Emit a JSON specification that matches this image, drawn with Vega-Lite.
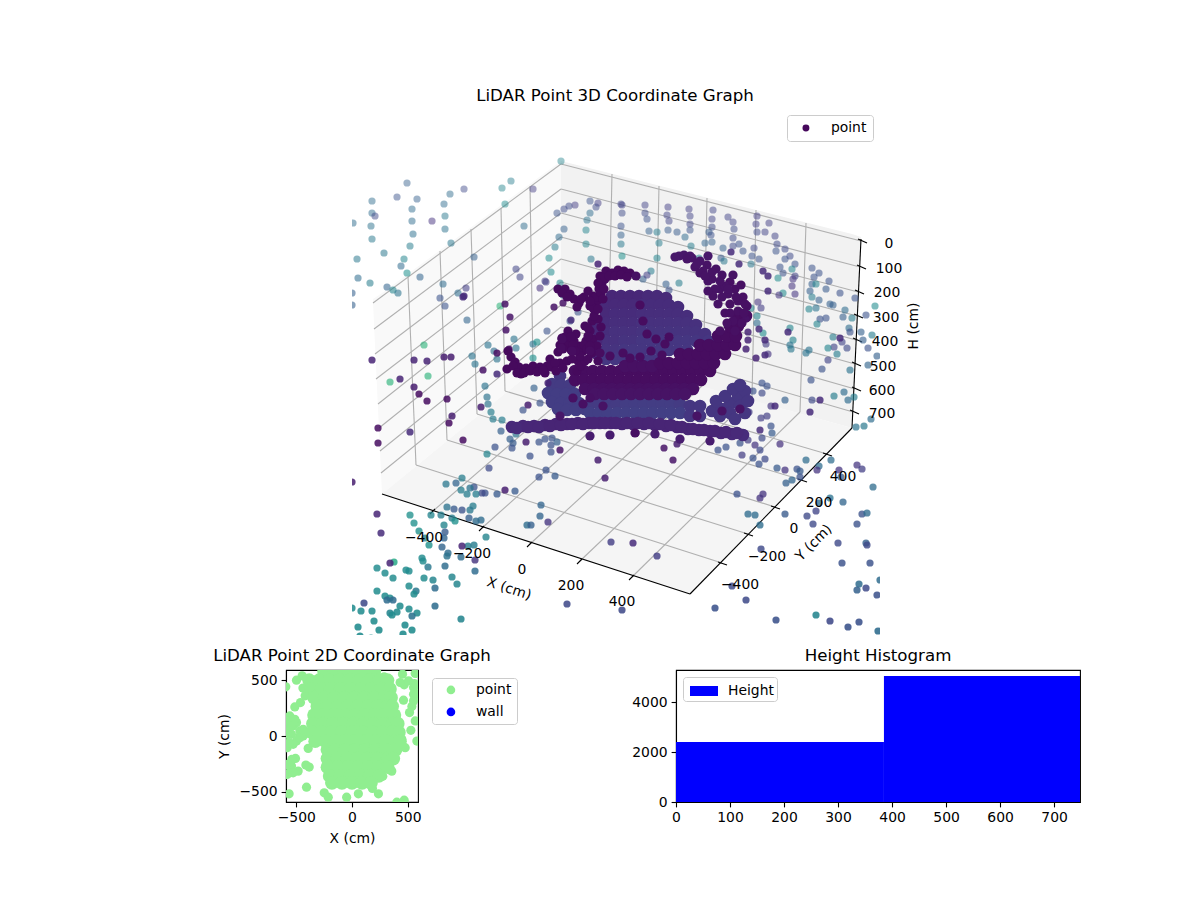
{
"$schema":"https://vega.github.io/schema/vega-lite/v6.json",
"background":"white",
"padding":{"left":212,"top":88,"right":0,"bottom":0},
"bounds":"flush",
"spacing":563,
"config":{
"view":{"stroke":null},
"font":"DejaVu Sans",
"title":{"font":"DejaVu Sans","fontSize":16.67,"fontWeight":"normal","color":"black","anchor":"middle","offset":5},
"axis":{"grid":false,"labelFont":"DejaVu Sans","titleFont":"DejaVu Sans","labelFontSize":13.9,"titleFontSize":13.9,"titleFontWeight":"normal","labelColor":"black","titleColor":"black","tickColor":"black","domainColor":"black","tickSize":4.9,"tickWidth":1.1,"domainWidth":1.1,"labelPadding":4,"labelFlush":false,"labelOverlap":false},
"legend":{"labelFont":"DejaVu Sans","labelFontSize":13.9,"labelColor":"black","fillColor":"white","strokeColor":"#cccccc","cornerRadius":3,"title":null,"orient":"none"}
},
"datasets":{
"scatter":[
{"x":561,"y":160,"r":45},{"x":407,"y":182,"r":30},{"x":511,"y":180,"r":42},{"x":502,"y":187,"r":45},{"x":464,"y":188,"r":22},{"x":533,"y":188,"r":18},{"x":450,"y":193,"r":35},{"x":397,"y":196,"r":25},{"x":417,"y":198,"r":30},{"x":372,"y":200,"r":35},{"x":590,"y":200,"r":25},{"x":598,"y":202,"r":18},{"x":505,"y":203,"r":48},{"x":444,"y":203,"r":35},{"x":621,"y":203,"r":20},{"x":622,"y":204,"r":20},{"x":575,"y":204,"r":18},{"x":569,"y":205,"r":22},{"x":645,"y":204,"r":20},{"x":668,"y":206,"r":18},{"x":596,"y":206,"r":22},{"x":412,"y":208,"r":35},{"x":564,"y":208,"r":22},{"x":689,"y":208,"r":18},{"x":713,"y":209,"r":20},{"x":372,"y":212,"r":35},{"x":557,"y":212,"r":25},{"x":590,"y":212,"r":35},{"x":622,"y":212,"r":22},{"x":645,"y":212,"r":22},{"x":375,"y":215,"r":22},{"x":445,"y":215,"r":40},{"x":757,"y":215,"r":18},{"x":667,"y":214,"r":20},{"x":690,"y":215,"r":20},{"x":728,"y":216,"r":20},{"x":353,"y":222,"r":35},{"x":412,"y":220,"r":35},{"x":432,"y":220,"r":14},{"x":587,"y":219,"r":38},{"x":647,"y":218,"r":25},{"x":669,"y":220,"r":20},{"x":712,"y":218,"r":20},{"x":733,"y":221,"r":20},{"x":769,"y":222,"r":18},{"x":371,"y":225,"r":37},{"x":445,"y":228,"r":38},{"x":524,"y":225,"r":35},{"x":564,"y":228,"r":30},{"x":586,"y":229,"r":45},{"x":621,"y":225,"r":25},{"x":690,"y":223,"r":20},{"x":712,"y":226,"r":22},{"x":756,"y":223,"r":18},{"x":734,"y":228,"r":22},{"x":413,"y":233,"r":37},{"x":559,"y":236,"r":35},{"x":621,"y":234,"r":30},{"x":649,"y":230,"r":30},{"x":657,"y":231,"r":42},{"x":668,"y":229,"r":28},{"x":677,"y":231,"r":28},{"x":690,"y":229,"r":25},{"x":709,"y":231,"r":28},{"x":757,"y":231,"r":22},{"x":765,"y":231,"r":20},{"x":685,"y":236,"r":35},{"x":711,"y":234,"r":25},{"x":733,"y":237,"r":22},{"x":775,"y":235,"r":20},{"x":372,"y":238,"r":40},{"x":451,"y":242,"r":40},{"x":555,"y":246,"r":42},{"x":586,"y":243,"r":45},{"x":621,"y":243,"r":40},{"x":659,"y":242,"r":42},{"x":705,"y":242,"r":32},{"x":712,"y":241,"r":30},{"x":739,"y":243,"r":25},{"x":777,"y":243,"r":22},{"x":410,"y":245,"r":42},{"x":691,"y":245,"r":42},{"x":723,"y":247,"r":30},{"x":733,"y":245,"r":22},{"x":754,"y":247,"r":22},{"x":785,"y":248,"r":22},{"x":384,"y":252,"r":40},{"x":743,"y":250,"r":25},{"x":776,"y":250,"r":25},{"x":404,"y":258,"r":45},{"x":474,"y":256,"r":30},{"x":357,"y":258,"r":40},{"x":549,"y":257,"r":48},{"x":591,"y":258,"r":40},{"x":622,"y":255,"r":50},{"x":657,"y":257,"r":45},{"x":699,"y":257,"r":45},{"x":721,"y":257,"r":28},{"x":752,"y":255,"r":25},{"x":790,"y":255,"r":22},{"x":724,"y":260,"r":40},{"x":759,"y":258,"r":25},{"x":785,"y":258,"r":25},{"x":751,"y":263,"r":40},{"x":795,"y":263,"r":25},{"x":401,"y":265,"r":35},{"x":516,"y":268,"r":20},{"x":651,"y":270,"r":42},{"x":780,"y":266,"r":25},{"x":792,"y":268,"r":45},{"x":812,"y":267,"r":25},{"x":407,"y":272,"r":50},{"x":520,"y":276,"r":20},{"x":551,"y":271,"r":48},{"x":420,"y":276,"r":32},{"x":358,"y":277,"r":35},{"x":643,"y":278,"r":30},{"x":647,"y":274,"r":18},{"x":783,"y":272,"r":25},{"x":819,"y":272,"r":25},{"x":814,"y":276,"r":25},{"x":778,"y":277,"r":48},{"x":795,"y":275,"r":20},{"x":370,"y":282,"r":42},{"x":443,"y":283,"r":35},{"x":545,"y":280,"r":18},{"x":546,"y":281,"r":18},{"x":560,"y":282,"r":45},{"x":666,"y":283,"r":30},{"x":679,"y":282,"r":42},{"x":812,"y":283,"r":30},{"x":816,"y":283,"r":45},{"x":829,"y":280,"r":25},{"x":793,"y":278,"r":15},{"x":387,"y":286,"r":32},{"x":466,"y":287,"r":18},{"x":540,"y":287,"r":14},{"x":669,"y":289,"r":25},{"x":792,"y":285,"r":15},{"x":826,"y":288,"r":28},{"x":393,"y":289,"r":45},{"x":398,"y":292,"r":38},{"x":458,"y":292,"r":35},{"x":352,"y":292,"r":30},{"x":563,"y":294,"r":42},{"x":783,"y":292,"r":48},{"x":795,"y":293,"r":15},{"x":779,"y":294,"r":15},{"x":810,"y":290,"r":30},{"x":840,"y":292,"r":25},{"x":440,"y":297,"r":25},{"x":812,"y":296,"r":42},{"x":855,"y":297,"r":25},{"x":819,"y":299,"r":30},{"x":758,"y":301,"r":15},{"x":445,"y":305,"r":25},{"x":500,"y":305,"r":65},{"x":352,"y":304,"r":30},{"x":830,"y":303,"r":30},{"x":833,"y":304,"r":30},{"x":875,"y":305,"r":48},{"x":751,"y":307,"r":45},{"x":761,"y":307,"r":18},{"x":809,"y":308,"r":45},{"x":816,"y":307,"r":38},{"x":845,"y":309,"r":35},{"x":578,"y":311,"r":25},{"x":843,"y":316,"r":30},{"x":852,"y":317,"r":42},{"x":866,"y":314,"r":25},{"x":757,"y":315,"r":45},{"x":467,"y":319,"r":32},{"x":820,"y":318,"r":25},{"x":826,"y":317,"r":25},{"x":570,"y":320,"r":25},{"x":817,"y":323,"r":45},{"x":757,"y":322,"r":35},{"x":790,"y":327,"r":45},{"x":849,"y":327,"r":35},{"x":547,"y":330,"r":25},{"x":763,"y":332,"r":48},{"x":850,"y":331,"r":25},{"x":861,"y":331,"r":30},{"x":872,"y":334,"r":42},{"x":514,"y":338,"r":38},{"x":793,"y":339,"r":45},{"x":833,"y":336,"r":42},{"x":842,"y":341,"r":20},{"x":863,"y":339,"r":30},{"x":424,"y":344,"r":65},{"x":488,"y":344,"r":38},{"x":533,"y":343,"r":38},{"x":537,"y":341,"r":50},{"x":790,"y":344,"r":38},{"x":766,"y":343,"r":18},{"x":516,"y":347,"r":38},{"x":791,"y":348,"r":40},{"x":834,"y":346,"r":20},{"x":847,"y":347,"r":22},{"x":828,"y":347,"r":45},{"x":868,"y":347,"r":25},{"x":494,"y":350,"r":35},{"x":809,"y":349,"r":38},{"x":806,"y":352,"r":38},{"x":837,"y":353,"r":42},{"x":877,"y":355,"r":30},{"x":472,"y":355,"r":38},{"x":497,"y":358,"r":38},{"x":533,"y":357,"r":50},{"x":768,"y":353,"r":15},{"x":828,"y":359,"r":20},{"x":475,"y":363,"r":38},{"x":868,"y":364,"r":32},{"x":822,"y":368,"r":25},{"x":850,"y":369,"r":38},{"x":390,"y":381,"r":65},{"x":428,"y":375,"r":65},{"x":811,"y":379,"r":25},{"x":485,"y":385,"r":38},{"x":534,"y":387,"r":30},{"x":762,"y":382,"r":25},{"x":767,"y":385,"r":25},{"x":753,"y":390,"r":25},{"x":762,"y":392,"r":22},{"x":844,"y":391,"r":35},{"x":834,"y":395,"r":42},{"x":487,"y":396,"r":38},{"x":854,"y":396,"r":42},{"x":785,"y":399,"r":30},{"x":812,"y":399,"r":22},{"x":848,"y":399,"r":35},{"x":540,"y":402,"r":25},{"x":488,"y":403,"r":38},{"x":523,"y":409,"r":25},{"x":771,"y":405,"r":15},{"x":491,"y":411,"r":42},{"x":749,"y":411,"r":18},{"x":761,"y":417,"r":18},{"x":767,"y":415,"r":18},{"x":871,"y":418,"r":35},{"x":493,"y":418,"r":42},{"x":502,"y":419,"r":42},{"x":771,"y":425,"r":25},{"x":864,"y":425,"r":40},{"x":856,"y":426,"r":38},{"x":501,"y":430,"r":30},{"x":772,"y":432,"r":28},{"x":516,"y":433,"r":38},{"x":510,"y":438,"r":30},{"x":545,"y":438,"r":25},{"x":552,"y":437,"r":25},{"x":539,"y":441,"r":25},{"x":557,"y":441,"r":30},{"x":513,"y":442,"r":28},{"x":740,"y":442,"r":25},{"x":762,"y":437,"r":22},{"x":748,"y":439,"r":18},{"x":495,"y":446,"r":25},{"x":512,"y":447,"r":25},{"x":551,"y":444,"r":25},{"x":718,"y":449,"r":25},{"x":726,"y":446,"r":25},{"x":780,"y":443,"r":14},{"x":755,"y":444,"r":15},{"x":760,"y":449,"r":22},{"x":551,"y":451,"r":25},{"x":530,"y":455,"r":25},{"x":487,"y":453,"r":45},{"x":742,"y":454,"r":18},{"x":753,"y":457,"r":25},{"x":765,"y":458,"r":22},{"x":806,"y":459,"r":35},{"x":831,"y":459,"r":35},{"x":759,"y":463,"r":25},{"x":819,"y":465,"r":35},{"x":857,"y":464,"r":15},{"x":489,"y":467,"r":22},{"x":546,"y":469,"r":25},{"x":777,"y":467,"r":28},{"x":785,"y":469,"r":15},{"x":797,"y":468,"r":25},{"x":800,"y":470,"r":28},{"x":817,"y":469,"r":15},{"x":839,"y":469,"r":15},{"x":862,"y":468,"r":18},{"x":555,"y":475,"r":28},{"x":539,"y":476,"r":25},{"x":462,"y":477,"r":42},{"x":800,"y":476,"r":25},{"x":841,"y":476,"r":28},{"x":792,"y":479,"r":32},{"x":786,"y":482,"r":30},{"x":456,"y":482,"r":32},{"x":446,"y":483,"r":40},{"x":873,"y":486,"r":35},{"x":474,"y":486,"r":25},{"x":470,"y":487,"r":38},{"x":461,"y":489,"r":42},{"x":515,"y":490,"r":28},{"x":485,"y":492,"r":25},{"x":482,"y":492,"r":22},{"x":497,"y":493,"r":28},{"x":476,"y":493,"r":42},{"x":467,"y":493,"r":42},{"x":737,"y":493,"r":25},{"x":763,"y":493,"r":15},{"x":760,"y":497,"r":15},{"x":830,"y":497,"r":38},{"x":843,"y":501,"r":32},{"x":819,"y":502,"r":35},{"x":541,"y":504,"r":32},{"x":473,"y":505,"r":42},{"x":447,"y":506,"r":38},{"x":454,"y":508,"r":28},{"x":462,"y":509,"r":25},{"x":470,"y":509,"r":40},{"x":816,"y":510,"r":20},{"x":410,"y":514,"r":50},{"x":431,"y":514,"r":45},{"x":441,"y":514,"r":42},{"x":540,"y":515,"r":32},{"x":748,"y":513,"r":35},{"x":755,"y":514,"r":35},{"x":785,"y":513,"r":28},{"x":807,"y":515,"r":22},{"x":862,"y":513,"r":25},{"x":867,"y":512,"r":35},{"x":452,"y":517,"r":42},{"x":469,"y":517,"r":30},{"x":455,"y":520,"r":50},{"x":481,"y":519,"r":35},{"x":476,"y":520,"r":35},{"x":548,"y":521,"r":15},{"x":414,"y":522,"r":50},{"x":444,"y":524,"r":45},{"x":527,"y":524,"r":35},{"x":531,"y":524,"r":30},{"x":760,"y":524,"r":35},{"x":813,"y":523,"r":22},{"x":857,"y":523,"r":25},{"x":419,"y":530,"r":50},{"x":445,"y":531,"r":28},{"x":486,"y":536,"r":45},{"x":444,"y":537,"r":32},{"x":425,"y":537,"r":45},{"x":611,"y":541,"r":18},{"x":838,"y":542,"r":22},{"x":866,"y":542,"r":30},{"x":867,"y":544,"r":22},{"x":429,"y":544,"r":50},{"x":442,"y":546,"r":32},{"x":468,"y":545,"r":42},{"x":474,"y":544,"r":42},{"x":761,"y":548,"r":22},{"x":448,"y":552,"r":35},{"x":447,"y":555,"r":38},{"x":461,"y":556,"r":35},{"x":657,"y":555,"r":18},{"x":422,"y":557,"r":48},{"x":475,"y":559,"r":15},{"x":423,"y":560,"r":48},{"x":394,"y":561,"r":60},{"x":842,"y":562,"r":25},{"x":870,"y":562,"r":25},{"x":428,"y":566,"r":40},{"x":445,"y":565,"r":35},{"x":377,"y":567,"r":48},{"x":406,"y":569,"r":48},{"x":409,"y":570,"r":48},{"x":475,"y":570,"r":35},{"x":385,"y":572,"r":48},{"x":393,"y":577,"r":48},{"x":424,"y":577,"r":48},{"x":452,"y":576,"r":45},{"x":433,"y":579,"r":45},{"x":880,"y":579,"r":35},{"x":457,"y":583,"r":45},{"x":859,"y":583,"r":35},{"x":409,"y":585,"r":48},{"x":435,"y":587,"r":35},{"x":732,"y":585,"r":22},{"x":866,"y":587,"r":22},{"x":416,"y":590,"r":40},{"x":377,"y":590,"r":48},{"x":857,"y":589,"r":30},{"x":414,"y":593,"r":48},{"x":877,"y":594,"r":25},{"x":385,"y":595,"r":48},{"x":390,"y":597,"r":48},{"x":387,"y":599,"r":35},{"x":393,"y":599,"r":35},{"x":746,"y":599,"r":22},{"x":364,"y":602,"r":22},{"x":567,"y":603,"r":22},{"x":400,"y":605,"r":48},{"x":435,"y":605,"r":35},{"x":715,"y":607,"r":25},{"x":352,"y":607,"r":48},{"x":409,"y":608,"r":48},{"x":622,"y":609,"r":22},{"x":361,"y":610,"r":48},{"x":372,"y":610,"r":48},{"x":397,"y":611,"r":48},{"x":390,"y":612,"r":45},{"x":417,"y":612,"r":48},{"x":392,"y":614,"r":48},{"x":412,"y":615,"r":38},{"x":816,"y":614,"r":45},{"x":461,"y":618,"r":45},{"x":374,"y":620,"r":48},{"x":776,"y":619,"r":25},{"x":830,"y":620,"r":22},{"x":859,"y":621,"r":25},{"x":405,"y":624,"r":48},{"x":358,"y":626,"r":48},{"x":848,"y":626,"r":25},{"x":412,"y":629,"r":48},{"x":379,"y":629,"r":48},{"x":878,"y":630,"r":35},{"x":403,"y":633,"r":48},{"x":360,"y":635,"r":48},{"x":371,"y":637,"r":48},
{"x":598,"y":263,"r":10},{"x":731,"y":251,"r":12},{"x":739,"y":263,"r":12},{"x":763,"y":270,"r":12},{"x":768,"y":275,"r":12},{"x":768,"y":290,"r":12},{"x":464,"y":295,"r":12},{"x":463,"y":296,"r":12},{"x":505,"y":303,"r":5},{"x":510,"y":316,"r":5},{"x":506,"y":329,"r":5},{"x":554,"y":306,"r":5},{"x":563,"y":302,"r":5},{"x":571,"y":319,"r":12},{"x":561,"y":347,"r":5},{"x":497,"y":352,"r":3},{"x":509,"y":348,"r":3},{"x":372,"y":359,"r":10},{"x":414,"y":359,"r":10},{"x":427,"y":360,"r":10},{"x":444,"y":356,"r":8},{"x":451,"y":356,"r":8},{"x":483,"y":369,"r":5},{"x":497,"y":373,"r":12},{"x":400,"y":378,"r":10},{"x":548,"y":382,"r":10},{"x":414,"y":386,"r":8},{"x":419,"y":393,"r":3},{"x":427,"y":400,"r":3},{"x":447,"y":398,"r":3},{"x":481,"y":406,"r":8},{"x":528,"y":404,"r":8},{"x":452,"y":415,"r":8},{"x":449,"y":422,"r":3},{"x":378,"y":427,"r":3},{"x":410,"y":431,"r":12},{"x":378,"y":442,"r":3},{"x":463,"y":439,"r":3},{"x":526,"y":441,"r":8},{"x":560,"y":449,"r":5},{"x":598,"y":459,"r":8},{"x":605,"y":477,"r":8},{"x":352,"y":481,"r":8},{"x":505,"y":489,"r":8},{"x":377,"y":513,"r":10},{"x":381,"y":532,"r":12},{"x":462,"y":545,"r":10},{"x":633,"y":542,"r":12},{"x":390,"y":562,"r":10},{"x":748,"y":331,"r":10},{"x":748,"y":339,"r":10},{"x":746,"y":348,"r":10},{"x":759,"y":328,"r":12},{"x":765,"y":339,"r":12},{"x":765,"y":354,"r":12},{"x":756,"y":357,"r":10},{"x":746,"y":318,"r":5},{"x":788,"y":331,"r":12},{"x":840,"y":337,"r":12},{"x":820,"y":399,"r":12},{"x":810,"y":411,"r":12},{"x":775,"y":405,"r":12},{"x":760,"y":429,"r":12},{"x":664,"y":447,"r":5},{"x":673,"y":459,"r":5},{"x":677,"y":443,"r":8},{"x":636,"y":432,"r":5}
],
"fill":[
{"x":612,"y":295,"r":14},{"x":621,"y":295,"r":14},{"x":630,"y":295,"r":14},{"x":639,"y":295,"r":14},{"x":648,"y":295,"r":15},{"x":657,"y":295,"r":15},{"x":666,"y":297,"r":15},
{"x":606,"y":304,"r":15},{"x":615,"y":304,"r":15},{"x":624,"y":304,"r":15},{"x":633,"y":304,"r":15},{"x":642,"y":304,"r":16},{"x":651,"y":304,"r":16},{"x":660,"y":304,"r":16},{"x":669,"y":304,"r":16},{"x":678,"y":306,"r":16},
{"x":606,"y":313,"r":15},{"x":615,"y":313,"r":16},{"x":624,"y":313,"r":16},{"x":633,"y":313,"r":16},{"x":642,"y":313,"r":17},{"x":651,"y":313,"r":17},{"x":660,"y":313,"r":17},{"x":669,"y":313,"r":17},{"x":678,"y":313,"r":17},{"x":687,"y":315,"r":17},
{"x":606,"y":322,"r":16},{"x":615,"y":322,"r":17},{"x":624,"y":322,"r":17},{"x":633,"y":322,"r":17},{"x":642,"y":322,"r":18},{"x":651,"y":322,"r":18},{"x":660,"y":322,"r":18},{"x":669,"y":322,"r":18},{"x":678,"y":322,"r":18},{"x":687,"y":322,"r":18},{"x":696,"y":324,"r":18},
{"x":606,"y":331,"r":17},{"x":615,"y":331,"r":18},{"x":624,"y":331,"r":18},{"x":633,"y":331,"r":18},{"x":642,"y":331,"r":19},{"x":651,"y":331,"r":19},{"x":660,"y":331,"r":19},{"x":669,"y":331,"r":19},{"x":678,"y":331,"r":19},{"x":687,"y":331,"r":19},{"x":696,"y":331,"r":19},{"x":705,"y":333,"r":19},
{"x":606,"y":340,"r":18},{"x":615,"y":340,"r":18},{"x":624,"y":340,"r":19},{"x":633,"y":340,"r":19},{"x":642,"y":340,"r":20},{"x":651,"y":340,"r":20},{"x":660,"y":340,"r":20},{"x":669,"y":340,"r":20},{"x":678,"y":340,"r":20},{"x":687,"y":340,"r":20},{"x":696,"y":340,"r":20},{"x":708,"y":340,"r":20},
{"x":606,"y":349,"r":19},{"x":615,"y":349,"r":19},{"x":624,"y":349,"r":20},{"x":633,"y":349,"r":20},{"x":642,"y":349,"r":20},{"x":651,"y":349,"r":20},{"x":660,"y":349,"r":20},{"x":669,"y":349,"r":20},{"x":678,"y":349,"r":20},{"x":687,"y":349,"r":20},
{"x":606,"y":358,"r":20},{"x":615,"y":358,"r":20},{"x":624,"y":358,"r":20},{"x":633,"y":358,"r":20},{"x":642,"y":358,"r":20},{"x":651,"y":358,"r":20},{"x":660,"y":358,"r":20},
{"x":596,"y":352,"r":14},{"x":596,"y":340,"r":14},{"x":596,"y":328,"r":14},
{"x":560,"y":375,"r":20},{"x":552,"y":383,"r":22},{"x":561,"y":384,"r":22},{"x":570,"y":384,"r":22},{"x":548,"y":392,"r":23},{"x":557,"y":393,"r":23},{"x":566,"y":393,"r":23},{"x":575,"y":393,"r":23},{"x":552,"y":401,"r":23},{"x":561,"y":402,"r":23},{"x":570,"y":402,"r":23},{"x":579,"y":402,"r":23},{"x":558,"y":408,"r":23},{"x":567,"y":409,"r":23},{"x":576,"y":409,"r":23},{"x":585,"y":408,"r":23},
{"x":590,"y":403,"r":22},{"x":599,"y":403,"r":22},{"x":608,"y":403,"r":22},{"x":617,"y":403,"r":22},{"x":626,"y":403,"r":23},{"x":635,"y":403,"r":23},{"x":644,"y":403,"r":23},{"x":653,"y":403,"r":23},{"x":662,"y":403,"r":23},{"x":671,"y":403,"r":23},{"x":680,"y":403,"r":22},
{"x":590,"y":412,"r":24},{"x":599,"y":412,"r":24},{"x":608,"y":412,"r":24},{"x":617,"y":412,"r":24},{"x":626,"y":412,"r":24},{"x":635,"y":412,"r":24},{"x":644,"y":412,"r":24},{"x":653,"y":412,"r":24},{"x":662,"y":412,"r":24},{"x":671,"y":412,"r":24},{"x":680,"y":412,"r":24},
{"x":690,"y":405,"r":20},{"x":700,"y":405,"r":20},{"x":712,"y":410,"r":20},{"x":722,"y":408,"r":20},{"x":730,"y":402,"r":20},{"x":738,"y":395,"r":20},{"x":745,"y":390,"r":20},{"x":716,"y":400,"r":20},{"x":725,"y":395,"r":20},{"x":733,"y":388,"r":20},{"x":740,"y":384,"r":20},{"x":720,"y":415,"r":20},{"x":730,"y":412,"r":20},{"x":740,"y":405,"r":20},{"x":748,"y":400,"r":20},{"x":745,"y":412,"r":20},{"x":735,"y":418,"r":20},{"x":700,"y":415,"r":20},{"x":690,"y":415,"r":20},
{"x":512,"y":426,"r":15},{"x":523,"y":425,"r":14},{"x":534,"y":425,"r":14},{"x":545,"y":424,"r":13},{"x":556,"y":423,"r":13},{"x":567,"y":423,"r":13},{"x":578,"y":422,"r":13},{"x":589,"y":422,"r":13},{"x":600,"y":422,"r":13},{"x":611,"y":422,"r":13},{"x":622,"y":423,"r":13},{"x":633,"y":423,"r":13},{"x":644,"y":423,"r":13},{"x":655,"y":424,"r":13},{"x":666,"y":425,"r":13},{"x":677,"y":426,"r":13},{"x":688,"y":428,"r":13},{"x":699,"y":429,"r":13},{"x":710,"y":430,"r":13},{"x":721,"y":432,"r":14},{"x":732,"y":433,"r":15},{"x":743,"y":434,"r":16},
{"x":517,"y":427,"r":15},{"x":528,"y":426,"r":14},{"x":539,"y":426,"r":14},{"x":550,"y":425,"r":13},{"x":561,"y":424,"r":13},{"x":572,"y":423,"r":13},{"x":583,"y":423,"r":13},{"x":594,"y":422,"r":13},{"x":605,"y":422,"r":13},{"x":616,"y":422,"r":13},{"x":627,"y":422,"r":13},{"x":638,"y":422,"r":13},{"x":649,"y":422,"r":13},{"x":660,"y":423,"r":13},{"x":671,"y":424,"r":13},{"x":682,"y":426,"r":13},{"x":693,"y":428,"r":13},{"x":704,"y":429,"r":13},{"x":715,"y":430,"r":13},{"x":726,"y":431,"r":14},{"x":737,"y":432,"r":15},
{"x":575,"y":370,"r":4},{"x":584,"y":370,"r":4},{"x":593,"y":370,"r":4},{"x":602,"y":370,"r":4},{"x":611,"y":370,"r":4},{"x":620,"y":370,"r":4},{"x":629,"y":370,"r":4},{"x":638,"y":370,"r":4},{"x":647,"y":370,"r":4},{"x":656,"y":370,"r":4},{"x":665,"y":370,"r":4},{"x":674,"y":370,"r":4},{"x":683,"y":370,"r":4},{"x":692,"y":370,"r":4},{"x":701,"y":370,"r":4},{"x":710,"y":370,"r":4},
{"x":575,"y":379,"r":4},{"x":584,"y":379,"r":4},{"x":593,"y":379,"r":4},{"x":602,"y":379,"r":4},{"x":611,"y":379,"r":4},{"x":620,"y":379,"r":4},{"x":629,"y":379,"r":4},{"x":638,"y":379,"r":4},{"x":647,"y":379,"r":4},{"x":656,"y":379,"r":4},{"x":665,"y":379,"r":4},{"x":674,"y":379,"r":4},{"x":683,"y":379,"r":4},{"x":692,"y":379,"r":4},{"x":701,"y":379,"r":4},
{"x":585,"y":388,"r":5},{"x":594,"y":388,"r":5},{"x":603,"y":388,"r":5},{"x":612,"y":388,"r":5},{"x":621,"y":388,"r":5},{"x":630,"y":388,"r":5},{"x":639,"y":388,"r":5},{"x":648,"y":388,"r":5},{"x":657,"y":388,"r":5},{"x":666,"y":388,"r":5},{"x":675,"y":388,"r":5},{"x":684,"y":388,"r":5},{"x":693,"y":388,"r":5},
{"x":595,"y":393,"r":6},{"x":604,"y":393,"r":6},{"x":613,"y":393,"r":6},{"x":622,"y":393,"r":6},{"x":631,"y":393,"r":6},{"x":640,"y":393,"r":6},{"x":649,"y":393,"r":6},{"x":658,"y":393,"r":6},{"x":667,"y":393,"r":6},{"x":676,"y":393,"r":6},{"x":685,"y":393,"r":6},
{"x":625,"y":365,"r":5},{"x":634,"y":365,"r":5},{"x":643,"y":365,"r":5},{"x":652,"y":365,"r":5},{"x":660,"y":362,"r":4},{"x":669,"y":362,"r":4},{"x":678,"y":362,"r":4},{"x":687,"y":362,"r":4},{"x":696,"y":362,"r":4},{"x":705,"y":362,"r":4},{"x":714,"y":362,"r":4},{"x":680,"y":353,"r":4},{"x":689,"y":353,"r":4},{"x":698,"y":353,"r":4},{"x":707,"y":353,"r":4},{"x":716,"y":353,"r":4},{"x":725,"y":353,"r":4},{"x":700,"y":344,"r":4},{"x":709,"y":344,"r":4},{"x":718,"y":344,"r":4},{"x":727,"y":344,"r":4},{"x":735,"y":344,"r":4},{"x":718,"y":335,"r":4},{"x":727,"y":335,"r":4},{"x":736,"y":335,"r":4},{"x":730,"y":325,"r":4},{"x":738,"y":325,"r":4},{"x":738,"y":315,"r":4},{"x":746,"y":315,"r":4}
],
"dots":[
{"x":747,"y":305,"r":5},{"x":743,"y":296,"r":5},{"x":735,"y":288,"r":5},{"x":730,"y":281,"r":5},{"x":722,"y":274,"r":6},{"x":716,"y":268,"r":6},{"x":707,"y":264,"r":6},{"x":700,"y":260,"r":7},{"x":692,"y":257,"r":7},{"x":684,"y":254,"r":8},{"x":679,"y":255,"r":8},{"x":690,"y":255,"r":8},{"x":708,"y":255,"r":8},{"x":738,"y":300,"r":5},{"x":728,"y":293,"r":6},{"x":720,"y":288,"r":6},{"x":712,"y":278,"r":6},{"x":703,"y":270,"r":6},{"x":695,"y":266,"r":7},{"x":733,"y":274,"r":6},{"x":741,"y":284,"r":5},{"x":725,"y":285,"r":6},{"x":687,"y":258,"r":7},{"x":697,"y":263,"r":7},{"x":712,"y":271,"r":6},{"x":675,"y":256,"r":8},
{"x":700,"y":272,"r":6},{"x":708,"y":280,"r":6},{"x":715,"y":288,"r":6},{"x":722,"y":296,"r":6},{"x":730,"y":303,"r":5},{"x":738,"y":310,"r":5},{"x":725,"y":312,"r":5},{"x":733,"y":320,"r":5},{"x":742,"y":322,"r":5},{"x":720,"y":280,"r":6},{"x":728,"y":288,"r":6},{"x":736,"y":296,"r":5},{"x":744,"y":312,"r":5},{"x":713,"y":295,"r":6},{"x":708,"y":290,"r":6},{"x":735,"y":330,"r":5},{"x":727,"y":322,"r":5},{"x":720,"y":330,"r":5},{"x":705,"y":275,"r":6},{"x":730,"y":312,"r":5},{"x":718,"y":303,"r":6},{"x":745,"y":303,"r":5},
{"x":577,"y":370,"r":3},{"x":578,"y":360,"r":3},{"x":583,"y":350,"r":3},{"x":579,"y":345,"r":3},{"x":586,"y":340,"r":3},{"x":590,"y":330,"r":3},{"x":585,"y":325,"r":3},{"x":592,"y":320,"r":3},{"x":595,"y":310,"r":3},{"x":590,"y":305,"r":3},{"x":597,"y":300,"r":3},{"x":593,"y":295,"r":3},{"x":599,"y":288,"r":3},{"x":602,"y":282,"r":3},{"x":600,"y":275,"r":3},{"x":606,"y":270,"r":3},{"x":612,"y":272,"r":3},{"x":618,"y":269,"r":3},{"x":624,"y":270,"r":3},{"x":630,"y":272,"r":3},{"x":636,"y":275,"r":5},{"x":605,"y":278,"r":3},{"x":598,"y":318,"r":3},{"x":593,"y":338,"r":3},
{"x":581,"y":365,"r":3},{"x":580,"y":352,"r":3},{"x":584,"y":344,"r":3},{"x":588,"y":335,"r":3},{"x":588,"y":327,"r":3},{"x":594,"y":315,"r":3},{"x":593,"y":307,"r":3},{"x":596,"y":296,"r":3},{"x":601,"y":292,"r":3},{"x":603,"y":277,"r":3},{"x":609,"y":275,"r":3},{"x":615,"y":275,"r":3},{"x":621,"y":274,"r":3},{"x":627,"y":276,"r":3},{"x":598,"y":282,"r":3},{"x":604,"y":288,"r":3},{"x":587,"y":348,"r":3},{"x":592,"y":352,"r":3},{"x":585,"y":360,"r":3},
{"x":580,"y":355,"r":3},{"x":588,"y":358,"r":3},{"x":597,"y":345,"r":3},{"x":600,"y":335,"r":3},{"x":590,"y":345,"r":3},{"x":598,"y":360,"r":3},{"x":601,"y":326,"r":3},{"x":603,"y":298,"r":3},{"x":598,"y":308,"r":3},
{"x":558,"y":288,"r":3},{"x":565,"y":288,"r":3},{"x":570,"y":293,"r":3},{"x":574,"y":298,"r":3},{"x":579,"y":302,"r":3},{"x":584,"y":296,"r":3},{"x":588,"y":290,"r":3},{"x":562,"y":292,"r":3},{"x":567,"y":296,"r":3},{"x":577,"y":306,"r":3},{"x":581,"y":298,"r":3},{"x":590,"y":300,"r":3},
{"x":568,"y":330,"r":3},{"x":562,"y":337,"r":3},{"x":567,"y":343,"r":3},{"x":574,"y":340,"r":3},{"x":560,"y":344,"r":3},{"x":571,"y":349,"r":3},{"x":576,"y":333,"r":3},{"x":565,"y":336,"r":3},{"x":571,"y":336,"r":3},{"x":563,"y":348,"r":3},{"x":573,"y":344,"r":3},{"x":575,"y":350,"r":3},{"x":558,"y":351,"r":3},
{"x":508,"y":350,"r":3},{"x":511,"y":356,"r":3},{"x":515,"y":361,"r":3},{"x":519,"y":366,"r":3},{"x":521,"y":373,"r":3},{"x":526,"y":367,"r":3},{"x":533,"y":365,"r":3},{"x":540,"y":366,"r":3},{"x":547,"y":365,"r":3},{"x":550,"y":358,"r":3},{"x":551,"y":366,"r":3},{"x":560,"y":362,"r":3},{"x":567,"y":360,"r":3},{"x":572,"y":358,"r":3},{"x":507,"y":368,"r":3},{"x":545,"y":372,"r":3},{"x":513,"y":365,"r":3},{"x":517,"y":372,"r":3},{"x":524,"y":372,"r":3},{"x":530,"y":370,"r":3},{"x":537,"y":371,"r":3},{"x":543,"y":369,"r":3},{"x":555,"y":362,"r":3},{"x":563,"y":367,"r":3},{"x":556,"y":370,"r":3},
{"x":572,"y":350,"r":4},{"x":590,"y":350,"r":4},{"x":600,"y":352,"r":4},{"x":610,"y":355,"r":4},{"x":623,"y":352,"r":4},{"x":630,"y":357,"r":4},{"x":640,"y":356,"r":4},{"x":640,"y":304,"r":4},{"x":643,"y":320,"r":4},{"x":647,"y":333,"r":4},{"x":656,"y":338,"r":4},{"x":665,"y":343,"r":4},{"x":669,"y":336,"r":4},{"x":651,"y":350,"r":4},{"x":662,"y":354,"r":4},{"x":562,"y":338,"r":4},{"x":561,"y":347,"r":4},
{"x":603,"y":405,"r":6},{"x":635,"y":432,"r":5},{"x":697,"y":415,"r":6},{"x":722,"y":410,"r":6},{"x":740,"y":408,"r":6},{"x":573,"y":397,"r":5},{"x":583,"y":403,"r":5},{"x":590,"y":397,"r":5},{"x":560,"y":415,"r":8},{"x":610,"y":434,"r":10},{"x":680,"y":438,"r":10},{"x":710,"y":440,"r":10},{"x":590,"y":435,"r":10},{"x":655,"y":433,"r":10}
]
},
"vconcat":[
{"bounds":"flush","spacing":10,"hconcat":[
{"width":56,"height":528,"data":{"values":[{"x":0}]},"mark":{"type":"point","opacity":0},"encoding":{}},
{"width":528,"height":528,
"title":{"text":"LiDAR Point 3D Coordinate Graph","offset":2,"dx":-1},
"resolve":{"scale":{"color":"independent","opacity":"independent"}},
"encoding":{
"x":{"field":"x","type":"quantitative","scale":{"domain":[352,880],"nice":false,"zero":false},"axis":null},
"y":{"field":"y","type":"quantitative","scale":{"domain":[634,106],"nice":false,"zero":false},"axis":null}
},
"layer":[
{"data":{"values":[{"x":373,"y":298,"y2":301},{"x":382,"y":292,"y2":493},{"x":561,"y":160,"y2":347}]},"mark":{"type":"area","color":"#f9f9f9"},"encoding":{"y2":{"field":"y2"}}},
{"data":{"values":[{"x":561,"y":160,"y2":347},{"x":852,"y":233,"y2":427},{"x":861,"y":236,"y2":236}]},"mark":{"type":"area","color":"#f2f2f2"},"encoding":{"y2":{"field":"y2"}}},
{"data":{"values":[{"x":382,"y":493,"y2":493},{"x":561,"y":347,"y2":551},{"x":690,"y":382,"y2":593},{"x":852,"y":427,"y2":427}]},"mark":{"type":"area","color":"#f5f5f5"},"encoding":{"y2":{"field":"y2"}}},
{"data":{"values":[
{"x":373,"y":302,"x2":561,"y2":163},{"x":561,"y":163,"x2":861,"y2":240},
{"x":374,"y":328,"x2":561,"y2":188},{"x":561,"y":188,"x2":860,"y2":266},
{"x":375,"y":353,"x2":561,"y2":212},{"x":561,"y":212,"x2":858,"y2":291},
{"x":376,"y":378,"x2":561,"y2":236},{"x":561,"y":236,"x2":857,"y2":315},
{"x":378,"y":403,"x2":561,"y2":258},{"x":561,"y":258,"x2":856,"y2":339},
{"x":379,"y":427,"x2":561,"y2":281},{"x":561,"y":281,"x2":855,"y2":363},
{"x":380,"y":450,"x2":561,"y2":304},{"x":561,"y":304,"x2":855,"y2":388},
{"x":381,"y":472,"x2":561,"y2":326},{"x":561,"y":326,"x2":853,"y2":411},
{"x":408,"y":275.5,"x2":416,"y2":464},{"x":440,"y":250,"x2":447,"y2":439},{"x":471,"y":228,"x2":477,"y2":413},{"x":501,"y":207,"x2":505,"y2":390},{"x":530,"y":185,"x2":533,"y2":367},
{"x":416,"y":464,"x2":722,"y2":562},{"x":447,"y":439,"x2":748,"y2":533},{"x":477,"y":413,"x2":775,"y2":506},{"x":505,"y":390,"x2":802,"y2":479},{"x":533,"y":367,"x2":827,"y2":453},
{"x":612,"y":173,"x2":608,"y2":359},{"x":659,"y":185,"x2":655,"y2":372},{"x":707,"y":197,"x2":703,"y2":384},{"x":756,"y":209,"x2":752,"y2":396},{"x":806,"y":222,"x2":800,"y2":411},
{"x":608,"y":359,"x2":433,"y2":510},{"x":655,"y":372,"x2":482,"y2":527},{"x":703,"y":384,"x2":530,"y2":543},{"x":752,"y":396,"x2":580,"y2":560},{"x":800,"y":411,"x2":632,"y2":576}
]},"mark":{"type":"rule","color":"#b0b0b0","strokeWidth":1.1},"encoding":{"x2":{"field":"x2"},"y2":{"field":"y2"}}},
{"data":{"values":[
{"x":382,"y":493,"x2":690,"y2":593},{"x":690,"y":593,"x2":852,"y2":427},{"x":861,"y":238,"x2":852,"y2":427},
{"x":430,"y":513,"x2":435,"y2":508},{"x":479,"y":530,"x2":484,"y2":525},{"x":527,"y":546,"x2":532,"y2":541},{"x":577,"y":563,"x2":582,"y2":558},{"x":629,"y":579,"x2":634,"y2":574},
{"x":718,"y":561,"x2":727,"y2":564},{"x":744,"y":532,"x2":753,"y2":535},{"x":771,"y":505,"x2":780,"y2":508},{"x":798,"y":478,"x2":807,"y2":481},{"x":823,"y":452,"x2":832,"y2":455},
{"x":858,"y":238,"x2":867,"y2":242},{"x":857,"y":264,"x2":866,"y2":268},{"x":855,"y":289,"x2":864,"y2":293},{"x":854,"y":313,"x2":863,"y2":317},{"x":853,"y":337,"x2":862,"y2":341},{"x":852,"y":361,"x2":861,"y2":365},{"x":852,"y":386,"x2":861,"y2":390},{"x":850,"y":409,"x2":859,"y2":413}
]},"mark":{"type":"rule","color":"black","strokeWidth":1.1},"encoding":{"x2":{"field":"x2"},"y2":{"field":"y2"}}},
{"data":{"name":"scatter"},"transform":[{"filter":"datum.r>12"}],"mark":{"type":"circle","clip":true,"size":52},
"encoding":{"color":{"field":"r","type":"quantitative","scale":{"scheme":"viridis","domain":[0,100]},"legend":null},
"opacity":{"field":"y","type":"quantitative","scale":{"domain":[160,640],"range":[0.45,0.9]},"legend":null}}},
{"data":{"name":"fill"},"mark":{"type":"circle","clip":true,"size":160,"opacity":1},
"encoding":{"color":{"field":"r","type":"quantitative","scale":{"scheme":"viridis","domain":[0,130]},"legend":null}}},
{"data":{"name":"scatter"},"transform":[{"filter":"datum.r<=12"}],"mark":{"type":"circle","clip":true,"size":52,"opacity":0.85},
"encoding":{"color":{"field":"r","type":"quantitative","scale":{"scheme":"viridis","domain":[0,100]},"legend":null}}},
{"data":{"name":"dots"},"mark":{"type":"circle","clip":true,"size":85,"opacity":1},
"encoding":{"color":{"field":"r","type":"quantitative","scale":{"scheme":"viridis","domain":[0,130]},"legend":null}}},
{"data":{"values":[{"x":424,"y":537,"t":"−400"},{"x":472,"y":553,"t":"−200"},{"x":522,"y":569,"t":"0"},{"x":571,"y":585,"t":"200"},{"x":622,"y":601,"t":"400"},
{"x":740,"y":584,"t":"−400"},{"x":767,"y":556,"t":"−200"},{"x":794,"y":528,"t":"0"},{"x":819,"y":502,"t":"200"},{"x":843,"y":476,"t":"400"},
{"x":889,"y":243,"t":"0"},{"x":889,"y":268,"t":"100"},{"x":887,"y":292,"t":"200"},{"x":886,"y":317,"t":"300"},{"x":885,"y":341,"t":"400"},{"x":883,"y":366,"t":"500"},{"x":882,"y":390,"t":"600"},{"x":882,"y":413,"t":"700"}]},
"mark":{"type":"text","font":"DejaVu Sans","fontSize":13.9,"color":"black"},"encoding":{"text":{"field":"t"}}},
{"data":{"values":[{"x":509,"y":588,"t":"X (cm)"}]},"mark":{"type":"text","font":"DejaVu Sans","fontSize":13.9,"color":"black","angle":18},"encoding":{"text":{"field":"t"}}},
{"data":{"values":[{"x":814,"y":542,"t":"Y (cm)"}]},"mark":{"type":"text","font":"DejaVu Sans","fontSize":13.9,"color":"black","angle":-45},"encoding":{"text":{"field":"t"}}},
{"data":{"values":[{"x":914,"y":325,"t":"H (cm)"}]},"mark":{"type":"text","font":"DejaVu Sans","fontSize":13.9,"color":"black","angle":270},"encoding":{"text":{"field":"t"}}},
{"data":{"values":[{"x":600,"y":300,"s":"point"}]},"mark":{"type":"circle","size":40,"opacity":0},
"encoding":{"color":{"field":"s","type":"nominal","scale":{"domain":["point"],"range":["#46085c"]},
"legend":{"legendX":435,"legendY":8,"symbolOpacity":1,"symbolSize":48,"symbolOffset":6,"padding":6,"labelOffset":18}}}}
]}
]},
{"bounds":"flush","spacing":258,"resolve":{"scale":{"color":"independent"}},"hconcat":[
{"width":132,"height":132,
"title":"LiDAR Point 2D Coordinate Graph",
"view":{"stroke":"black","strokeWidth":1.1},
"encoding":{
"x":{"field":"x","type":"quantitative","title":"X (cm)","scale":{"domain":[-592,592],"nice":false},"axis":{"values":[-500,0,500],"labelExpr":"replace(datum.label,'-','−')","titlePadding":7}},
"y":{"field":"y","type":"quantitative","title":"Y (cm)","scale":{"domain":[-592,592],"nice":false},"axis":{"values":[-500,0,500],"labelExpr":"replace(datum.label,'-','−')","titlePadding":7}},
"color":{"datum":"point","scale":{"domain":["point","wall"],"range":["#90ee90","#0000ff"]},
"legend":{"legendX":146,"legendY":8,"symbolSize":75,"symbolType":"circle","symbolOffset":7,"padding":5,"rowPadding":7,"labelOffset":18}}
},
"layer":[
{"data":{"values":[
{"x":-498,"y":501},{"x":-447,"y":540},{"x":-333,"y":501},{"x":-198,"y":540},{"x":147,"y":525},{"x":288,"y":531},{"x":453,"y":555},{"x":567,"y":561},{"x":468,"y":459},{"x":552,"y":435},{"x":552,"y":375},{"x":-594,"y":441},{"x":-462,"y":300},{"x":-513,"y":261},{"x":462,"y":321},{"x":537,"y":264},{"x":516,"y":210},{"x":567,"y":135},{"x":528,"y":51},{"x":582,"y":-45},{"x":-558,"y":180},{"x":-498,"y":120},{"x":-543,"y":15},{"x":-582,"y":-105},{"x":-498,"y":-45},{"x":-393,"y":-111},{"x":-507,"y":-201},{"x":-543,"y":-270},{"x":-564,"y":-330},{"x":-483,"y":-315},{"x":-414,"y":-261},{"x":-384,"y":-279},{"x":-408,"y":-459},{"x":-564,"y":-519},{"x":-249,"y":-510},{"x":-213,"y":-549},{"x":-48,"y":-549},{"x":57,"y":-519},{"x":183,"y":-471},{"x":237,"y":-519},{"x":402,"y":-594},{"x":468,"y":-576},{"x":357,"y":-315},{"x":276,"y":-360},{"x":477,"y":-105},{"x":447,"y":-30},{"x":-468,"y":45},{"x":-438,"y":0},{"x":-582,"y":135},{"x":-570,"y":60},{"x":-530,"y":90},{"x":-470,"y":-10},{"x":-540,"y":-210},{"x":560,"y":470},{"x":-440,"y":430},{"x":-420,"y":360},
{"x":-582,"y":120},{"x":-543,"y":90},{"x":-513,"y":150},{"x":-582,"y":15},{"x":-468,"y":-15},{"x":-528,"y":-75},{"x":-564,"y":-60},{"x":-438,"y":60},{"x":432,"y":480},{"x":507,"y":495},{"x":582,"y":375},{"x":552,"y":315},{"x":-582,"y":-255},{"x":-528,"y":-330},{"x":-582,"y":-345}
]},"mark":{"type":"circle","clip":true,"size":85,"opacity":1}},
{"data":{"values":[
{"x":-250,"y":578},{"x":-160,"y":578},{"x":-70,"y":578},{"x":20,"y":578},{"x":110,"y":578},{"x":200,"y":578},
{"x":-384,"y":500},{"x":-294,"y":500},{"x":-204,"y":500},{"x":-114,"y":500},{"x":-24,"y":500},{"x":66,"y":500},{"x":156,"y":500},{"x":246,"y":500},{"x":318,"y":500},
{"x":-370,"y":422},{"x":-280,"y":422},{"x":-190,"y":422},{"x":-100,"y":422},{"x":-10,"y":422},{"x":80,"y":422},{"x":170,"y":422},{"x":260,"y":422},{"x":340,"y":422},
{"x":-340,"y":344},{"x":-250,"y":344},{"x":-160,"y":344},{"x":-70,"y":344},{"x":20,"y":344},{"x":110,"y":344},{"x":200,"y":344},{"x":290,"y":344},{"x":350,"y":344},
{"x":-310,"y":266},{"x":-220,"y":266},{"x":-130,"y":266},{"x":-40,"y":266},{"x":50,"y":266},{"x":140,"y":266},{"x":230,"y":266},{"x":320,"y":266},{"x":360,"y":266},
{"x":-340,"y":188},{"x":-250,"y":188},{"x":-160,"y":188},{"x":-70,"y":188},{"x":20,"y":188},{"x":110,"y":188},{"x":200,"y":188},{"x":290,"y":188},{"x":380,"y":188},
{"x":-350,"y":110},{"x":-260,"y":110},{"x":-170,"y":110},{"x":-80,"y":110},{"x":10,"y":110},{"x":100,"y":110},{"x":190,"y":110},{"x":280,"y":110},{"x":370,"y":110},{"x":410,"y":110},
{"x":-360,"y":32},{"x":-270,"y":32},{"x":-180,"y":32},{"x":-90,"y":32},{"x":0,"y":32},{"x":90,"y":32},{"x":180,"y":32},{"x":270,"y":32},{"x":360,"y":32},{"x":420,"y":32},
{"x":-330,"y":-46},{"x":-240,"y":-46},{"x":-150,"y":-46},{"x":-60,"y":-46},{"x":30,"y":-46},{"x":120,"y":-46},{"x":210,"y":-46},{"x":300,"y":-46},{"x":390,"y":-46},{"x":430,"y":-46},
{"x":-220,"y":-124},{"x":-150,"y":-124},{"x":-60,"y":-124},{"x":30,"y":-124},{"x":120,"y":-124},{"x":210,"y":-124},{"x":300,"y":-124},{"x":390,"y":-124},
{"x":-220,"y":-202},{"x":-130,"y":-202},{"x":-40,"y":-202},{"x":50,"y":-202},{"x":140,"y":-202},{"x":230,"y":-202},{"x":320,"y":-202},{"x":370,"y":-202},
{"x":-220,"y":-280},{"x":-130,"y":-280},{"x":-40,"y":-280},{"x":50,"y":-280},{"x":140,"y":-280},{"x":230,"y":-280},{"x":320,"y":-280},
{"x":-200,"y":-358},{"x":-110,"y":-358},{"x":-20,"y":-358},{"x":70,"y":-358},{"x":160,"y":-358},{"x":240,"y":-358},
{"x":-180,"y":-420},{"x":-90,"y":-420},{"x":0,"y":-420},{"x":90,"y":-420},{"x":170,"y":-420}
]},"mark":{"type":"circle","clip":true,"size":190,"opacity":1}}
]},
{"width":404,"height":132,
"title":"Height Histogram",
"view":{"stroke":"black","strokeWidth":1.1},
"data":{"values":[{"start":0,"end":385,"count":2400,"base":0,"series":"Height"},{"start":385,"end":748,"count":5040,"base":0,"series":"Height"}]},
"mark":{"type":"rect"},
"encoding":{
"x":{"field":"start","type":"quantitative","title":null,"scale":{"domain":[0,748],"nice":false},"axis":{"values":[0,100,200,300,400,500,600,700]}},
"x2":{"field":"end"},
"y":{"field":"count","type":"quantitative","title":null,"scale":{"domain":[0,5280],"nice":false},"axis":{"values":[0,2000,4000],"format":"d"}},
"y2":{"field":"base"},
"color":{"field":"series","type":"nominal","scale":{"domain":["Height"],"range":["#0000ff"]},
"legend":{"legendX":7,"legendY":7,"symbolType":"M-1.4,-0.5H1.4V0.5H-1.4Z","symbolSize":400,"symbolOffset":7,"padding":3,"labelOffset":13}}
}}
]}
]
}
